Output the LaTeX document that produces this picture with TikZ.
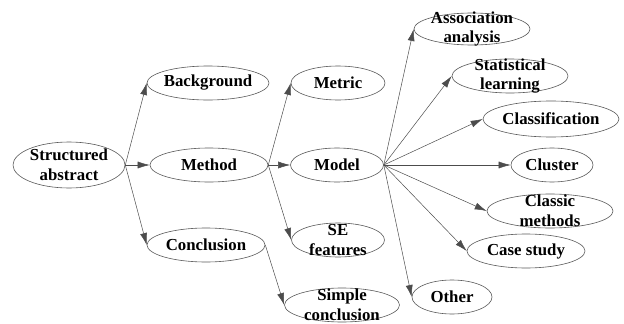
\documentclass[tikz,border=0pt]{standalone}
\usepackage{fontspec}
\setmainfont{Liberation Serif}
\usetikzlibrary{shapes.geometric,arrows.meta}
\tikzset{
  ell/.style={ellipse, draw=black!65, line width=0.6pt, inner sep=0pt, fill=white},
  lbl/.style={font=\fontsize{16.8}{19.5}\selectfont\bfseries, align=center, text=black},
  conn/.style={draw=black!70, line width=0.5pt, -{Latex[length=12pt,width=7pt]}},
}
\newcommand{\ellnode}[6]{%
  \node[ell, minimum width=#4pt, minimum height=#5pt, label={[lbl]center:#6}] (#1) at (#2,#3) {};}
\begin{document}
\begin{tikzpicture}[x=1pt,y=-1pt]
\useasboundingbox (0,0) rectangle (624,324);
\ellnode{sa}{69}{165}{112}{46}{Structured\\abstract}
\ellnode{bg}{208}{83}{122}{34}{Background}
\ellnode{me}{209}{165}{118}{34}{Method}
\ellnode{co}{206}{245}{118}{34}{Conclusion}
\ellnode{mt}{338}{83}{94}{34}{Metric}
\ellnode{mo}{337}{165}{93}{34}{Model}
\ellnode{se}{338}{240}{93}{34}{SE\\features}
\ellnode{sc}{342}{305}{115}{34}{Simple\\conclusion}
\ellnode{aa}{472}{29}{116}{32}{Association\\analysis}
\ellnode{sl}{510}{76}{116}{34}{Statistical\\learning}
\ellnode{cf}{551}{119}{136}{36}{Classification}
\ellnode{cl}{552}{165}{82}{34}{Cluster}
\ellnode{cm}{550}{211}{126}{34}{Classic\\methods}
\ellnode{cs}{526}{251}{118}{34}{Case study}
\ellnode{ot}{452}{297}{80}{34}{Other}
\draw[conn] (sa.east) -- (bg.west);
\draw[conn] (sa.east) -- (me.west);
\draw[conn] (sa.east) -- (co.west);
\draw[conn] (me.east) -- (mt.west);
\draw[conn] (me.east) -- (mo.west);
\draw[conn] (me.east) -- (se.west);
\draw[conn] (co.east) -- (sc.west);
\draw[conn] (mo.east) -- (aa.west);
\draw[conn] (mo.east) -- (sl.west);
\draw[conn] (mo.east) -- (cf.west);
\draw[conn] (mo.east) -- (cl.west);
\draw[conn] (mo.east) -- (cm.west);
\draw[conn] (mo.east) -- (cs.west);
\draw[conn] (mo.east) -- (ot.west);
\end{tikzpicture}
\end{document}
